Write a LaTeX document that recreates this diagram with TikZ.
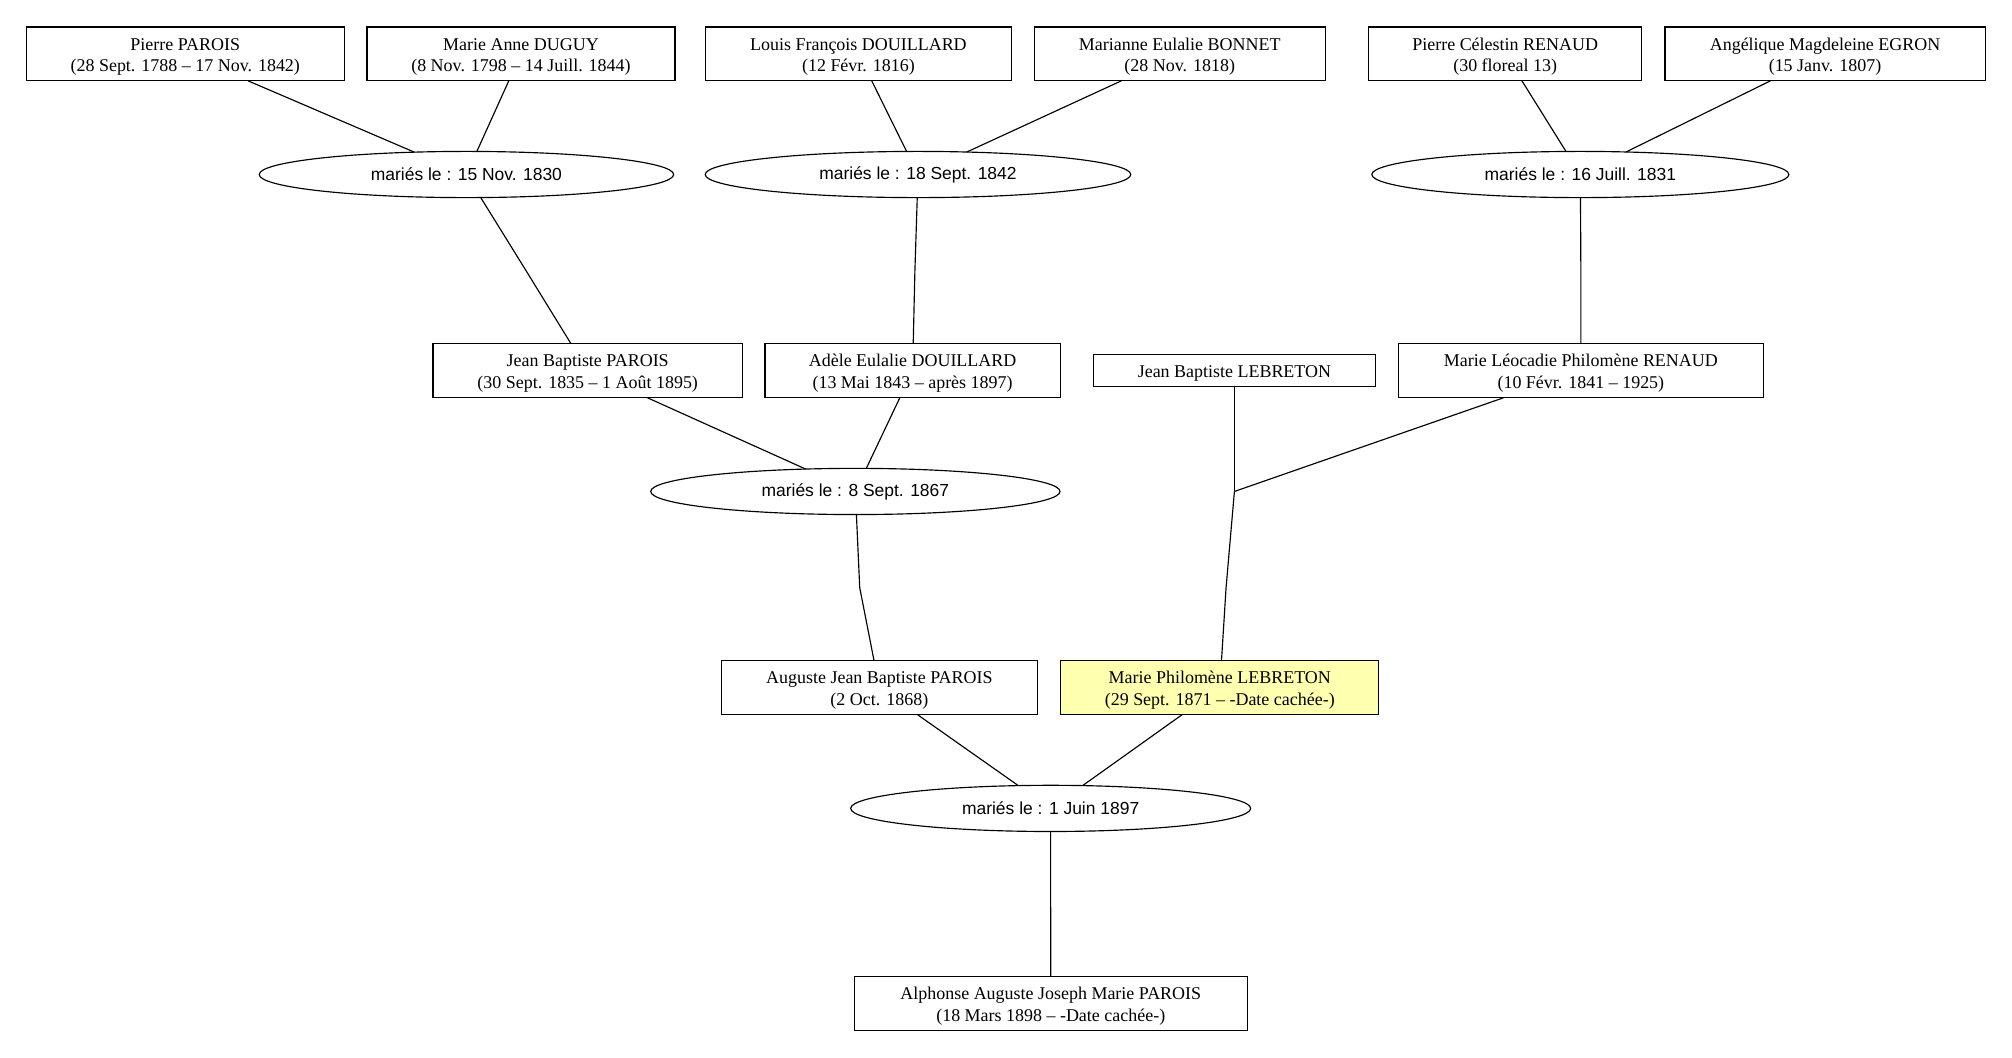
\documentclass[tikz,border=0pt]{standalone}
\usepackage{fontspec}
\setmainfont{Liberation Serif}
\newfontfamily\ellfont{Liberation Sans}
\usetikzlibrary{shapes.geometric}
\definecolor{hilite}{RGB}{255,255,176}
% two-line and one-line person texts, baselines placed as in the reference
\newcommand\ptxt[1]{\raisebox{3pt}[0pt][0pt]{\begin{tabular}[t]{@{}c@{}}#1\end{tabular}}}
\newcommand\ptxo[1]{\raisebox{-5.2pt}[0pt][0pt]{#1}}
\begin{document}
\begin{tikzpicture}[x=1pt,y=-1pt,
  person/.style={draw, rectangle, line width=0.9pt, inner sep=0pt, outer sep=0pt,
    minimum height=42pt, font=\fontsize{14}{16.9}\selectfont},
  marriage/.style={draw, ellipse, line width=0.9pt, inner sep=0pt, outer sep=0pt,
    minimum height=36pt, font=\ellfont\fontsize{13.6}{16}\selectfont},
  link/.style={line width=0.9pt}]
\useasboundingbox (0,0) rectangle (1568,824.5);

% row 1
\node[person, minimum width=247.8pt] (pp) at (144.4,42) {\ptxt{Pierre PAROIS\\(28 Sept. 1788 – 17 Nov. 1842)}};
\node[person, minimum width=240pt] (mad) at (406,42) {\ptxt{Marie Anne DUGUY\\(8 Nov. 1798 – 14 Juill. 1844)}};
\node[person, minimum width=238pt] (lfd) at (669,42) {\ptxt{Louis François DOUILLARD\\(12 Févr. 1816)}};
\node[person, minimum width=226.6pt] (meb) at (919.4,42) {\ptxt{Marianne Eulalie BONNET\\(28 Nov. 1818)}};
\node[person, minimum width=213pt] (pcr) at (1173,42) {\ptxt{Pierre Célestin RENAUD\\(30 floreal 13)}};
\node[person, minimum width=249.5pt] (ame) at (1422.3,42) {\ptxt{Angélique Magdeleine EGRON\\(15 Janv. 1807)}};

% row 2
\node[marriage, minimum width=323pt] (e1) at (363.5,136) {mariés le : 15 Nov. 1830};
\node[marriage, minimum width=331.7pt] (e2) at (715.4,136) {mariés le : 18 Sept. 1842};
\node[marriage, minimum width=325pt] (e3) at (1231.6,136) {mariés le : 16 Juill. 1831};

\coordinate (k1) at (410,211);
\coordinate (k2) at (713,211);
\coordinate (k3) at (1232,211);

% row 3
\node[person, minimum width=241pt] (jbp) at (458,289) {\ptxt{Jean Baptiste PAROIS\\(30 Sept. 1835 – 1 Août 1895)}};
\node[person, minimum width=230pt] (aed) at (711.2,289) {\ptxt{Adèle Eulalie DOUILLARD\\(13 Mai 1843 – après 1897)}};
\node[person, minimum width=220pt, minimum height=25pt] (jbl) at (962,289) {\ptxo{Jean Baptiste LEBRETON}};
\node[person, minimum width=284pt] (mlr) at (1232,289) {\ptxt{Marie Léocadie Philomène RENAUD\\(10 Févr. 1841 – 1925)}};

% row 4
\node[marriage, minimum width=319pt] (e4) at (666.6,383) {mariés le : 8 Sept. 1867};
\coordinate (j1) at (962,383);

\coordinate (k4) at (670,458);
\coordinate (k5) at (955.5,458);

% row 5
\node[person, minimum width=246.5pt] (ajb) at (685.3,536) {\ptxt{Auguste Jean Baptiste PAROIS\\(2 Oct. 1868)}};
\node[person, minimum width=248pt, fill=hilite] (mpl) at (950.6,536) {\ptxt{Marie Philomène LEBRETON\\(29 Sept. 1871 – -Date cachée-)}};

% row 6
\node[marriage, minimum width=311.7pt] (e5) at (818.8,630) {mariés le : 1 Juin 1897};
\coordinate (k6) at (818.8,705);

% row 7
\node[person, minimum width=306pt] (aaj) at (818.9,782) {\ptxt{Alphonse Auguste Joseph Marie PAROIS\\(18 Mars 1898 – -Date cachée-)}};

% connectors
\draw[link] (pp) -- (e1);
\draw[link] (mad) -- (e1);
\draw[link] (lfd) -- (e2);
\draw[link] (meb) -- (e2);
\draw[link] (pcr) -- (e3);
\draw[link] (ame) -- (e3);
\draw[link] (e1) -- (k1) -- (jbp);
\draw[link] (e2) -- (k2) -- (aed);
\draw[link] (e3) -- (k3) -- (mlr);
\draw[link] (jbp) -- (e4);
\draw[link] (aed) -- (e4);
\draw[link] (jbl) -- (j1);
\draw[link] (mlr) -- (j1);
\draw[link] (e4) -- (k4) -- (ajb);
\draw[link] (j1) -- (k5) -- (mpl);
\draw[link] (ajb) -- (e5);
\draw[link] (mpl) -- (e5);
\draw[link] (e5) -- (k6) -- (aaj);
\end{tikzpicture}
\end{document}
